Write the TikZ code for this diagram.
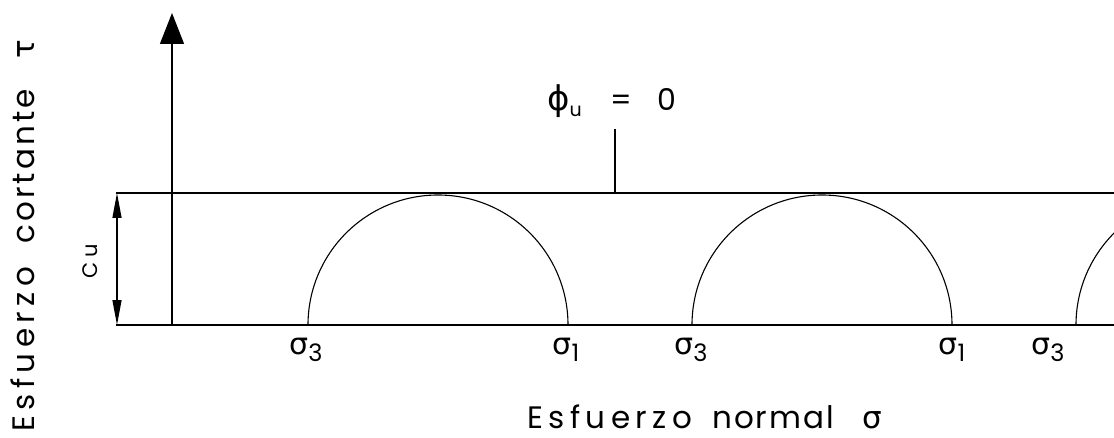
\documentclass[tikz,border=0pt]{standalone}
\usepackage{fontspec}
\setmainfont{Poppins}
\newfontfamily\dv{DejaVu Sans}
\usetikzlibrary{arrows.meta}
\begin{document}
\begin{tikzpicture}[x=1pt,y=1pt,
  line/.style={line width=1.3pt},
  circ/.style={line width=1.1pt},
  lbl/.style={inner sep=0pt,font=\fontsize{30}{30}\selectfont},
  axlbl/.style={inner sep=0pt,text depth=0pt,font=\fontsize{31}{31}\selectfont}]
\useasboundingbox (0,0) rectangle (1114,437);
\clip (0,0) rectangle (1114,437);
% coordinates
\coordinate (o) at (172,112);
\coordinate (tip) at (172,424);
\coordinate (tl) at (116,244);
\coordinate (tr) at (1114,244);
\coordinate (bl) at (116,112);
\coordinate (br) at (1114,112);
\coordinate (cuT) at (117,244);
\coordinate (cuB) at (117,112);
\coordinate (lead) at (615,308);
\coordinate (leadB) at (615,244);
\coordinate (a1) at (308,112);
\coordinate (a2) at (692,112);
\coordinate (a3) at (1076,112);
% lines
\draw[line] (tl) -- (tr);
\draw[line] (bl) -- (br);
\draw[line,-{Triangle[length=31pt,width=24pt]}] (o) -- (tip);
\draw[line,{Triangle[length=25pt,width=9pt]}-{Triangle[length=25pt,width=9pt]}] (cuT) -- (cuB);
\draw[line] (lead) -- (leadB);
% Mohr circles
\draw[circ] (a1) arc[start angle=180,end angle=0,radius=130];
\draw[circ] (a2) arc[start angle=180,end angle=0,radius=130];
\draw[circ] (a3) arc[start angle=180,end angle=0,radius=130];
% labels
\newcommand\sig[1]{{\dv\fontsize{30}{30}\selectfont σ}\raisebox{-7pt}{\fontsize{24}{24}\selectfont #1}}
\newcommand\esf[1]{\makebox[#1][s]{E\hfil s\hfil f\hfil u\hfil e\hfil r\hfil z\hfil o}}
\node[lbl,rotate=90,anchor=base,text depth=0pt] (cu) at (97,176) {\fontsize{21}{21}\selectfont\makebox[34pt][s]{C\hfil u}};
\node[lbl] (s31) at (306,87) {\sig{3}};
\node[lbl] (s11) at (566,87) {\sig{1}};
\node[lbl] (s32) at (691,87) {\sig{3}};
\node[lbl] (s12) at (952,87) {\sig{1}};
\node[lbl] (s33) at (1048,87) {\sig{3}};
\node[lbl,anchor=base west] (phi) at (547,326) {\makebox[63pt][l]{{\dv\fontsize{34}{34}\selectfont ϕ}\raisebox{-6pt}{\fontsize{19}{19}\selectfont u}}\makebox[47pt][l]{=}0};
\node[axlbl,anchor=base west] (xlab) at (527,9) {\esf{165pt}\hspace{20pt}\makebox[150pt][l]{\makebox[122pt][s]{n\hfil o\hfil r\hfil m\hfil a\hfil l}}{\dv σ}};
\node[axlbl,rotate=90,anchor=base west] (ylab) at (35,5) {\esf{165pt}\hspace{23pt}\makebox[185pt][l]{\makebox[155pt][s]{c\hfil o\hfil r\hfil t\hfil a\hfil n\hfil t\hfil e}}{\dv τ}};
\end{tikzpicture}
\end{document}
